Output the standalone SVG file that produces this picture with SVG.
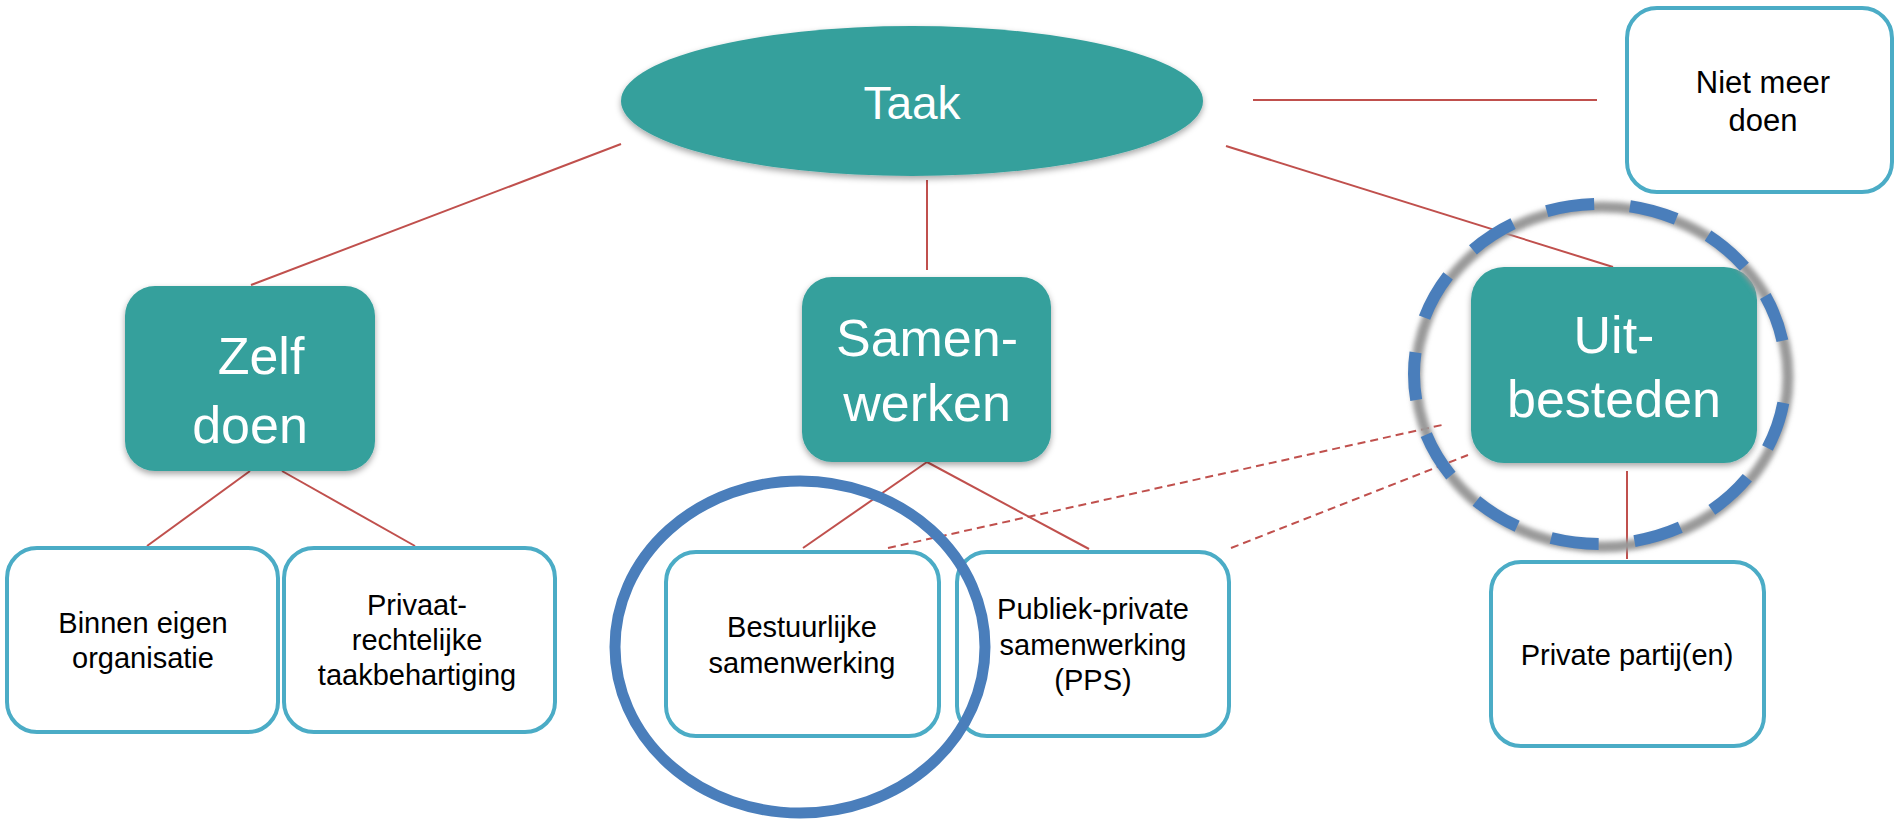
<svg xmlns="http://www.w3.org/2000/svg" width="1895" height="820" viewBox="0 0 1895 820">
<defs>
<filter id="sh" x="-20%" y="-20%" width="140%" height="150%">
<feDropShadow dx="0" dy="3" stdDeviation="3" flood-color="#000" flood-opacity="0.35"/>
</filter>
<filter id="blur" x="-20%" y="-20%" width="140%" height="140%">
<feGaussianBlur stdDeviation="2.5"/>
</filter>
<style>
.teal{fill:#35a09c;filter:url(#sh)}
.box{fill:#fff;stroke:#4bacc6;stroke-width:4}
.big{font-family:"Liberation Sans",Arial,sans-serif;font-size:52px;fill:#fff;text-anchor:middle}
.sm{font-family:"Liberation Sans",Arial,sans-serif;font-size:29px;fill:#000;text-anchor:middle}
.ln{stroke:#c0504d;stroke-width:2;fill:none}
.dl{stroke:#c0504d;stroke-width:2;fill:none;stroke-dasharray:8 5}
</style>
</defs>
<rect width="1895" height="820" fill="#fff"/>
<g id="connectors">
<line class="ln" x1="621" y1="144" x2="251" y2="285"/>
<line class="ln" x1="927" y1="180" x2="927" y2="270"/>
<line class="ln" x1="1226" y1="146" x2="1613" y2="267"/>
<line class="ln" x1="1253" y1="100" x2="1597" y2="100"/>
<line class="ln" x1="250" y1="471" x2="147" y2="546"/>
<line class="ln" x1="282" y1="471" x2="415" y2="546"/>
<line class="ln" x1="927" y1="462" x2="803" y2="548"/>
<line class="ln" x1="927" y1="462" x2="1089" y2="549"/>
<line class="ln" x1="1627" y1="471" x2="1627" y2="559"/>
<line class="dl" x1="888" y1="548" x2="1442" y2="425"/>
<line class="dl" x1="1231" y1="548" x2="1468" y2="455"/>
</g>
<g id="taak">
<ellipse class="teal" cx="912" cy="101" rx="291" ry="75"/>
<text class="big" x="912" y="119" style="font-size:46px">Taak</text>
</g>
<g id="niet-meer-doen">
<rect class="box" x="1627" y="8" width="265" height="184" rx="30"/>
<text class="sm" x="1763" y="93" style="font-size:31px">Niet meer</text>
<text class="sm" x="1763" y="131" style="font-size:31px">doen</text>
</g>
<g id="zelf-doen">
<rect class="teal" x="125" y="286" width="250" height="185" rx="30"/>
<text class="big" x="261" y="374">Zelf</text>
<text class="big" x="250" y="443">doen</text>
</g>
<g id="samenwerken">
<rect class="teal" x="802" y="277" width="249" height="185" rx="30"/>
<text class="big" x="927" y="356">Samen-</text>
<text class="big" x="927" y="421">werken</text>
</g>
<g id="uitbesteden">
<rect class="teal" x="1471" y="267" width="286" height="196" rx="33"/>
<text class="big" x="1614" y="353">Uit-</text>
<text class="big" x="1614" y="417">besteden</text>
</g>
<g id="binnen-eigen-organisatie">
<rect class="box" x="7" y="548" width="271" height="184" rx="30"/>
<text class="sm" x="143" y="633">Binnen eigen</text>
<text class="sm" x="143" y="668">organisatie</text>
</g>
<g id="privaatrechtelijke">
<rect class="box" x="284" y="548" width="271" height="184" rx="30"/>
<text class="sm" x="417" y="615">Privaat-</text>
<text class="sm" x="417" y="650">rechtelijke</text>
<text class="sm" x="417" y="685">taakbehartiging</text>
</g>
<g id="bestuurlijke-samenwerking">
<rect class="box" x="666" y="552" width="273" height="184" rx="30"/>
<text class="sm" x="802" y="637">Bestuurlijke</text>
<text class="sm" x="802" y="673">samenwerking</text>
</g>
<g id="pps">
<rect class="box" x="957" y="552" width="272" height="184" rx="30"/>
<text class="sm" x="1093" y="619">Publiek-private</text>
<text class="sm" x="1093" y="655">samenwerking</text>
<text class="sm" x="1093" y="690">(PPS)</text>
</g>
<g id="private-partijen">
<rect class="box" x="1491" y="562" width="273" height="184" rx="30"/>
<text class="sm" x="1627" y="665">Private partij(en)</text>
</g>
<g id="highlight-bestuurlijk">
<ellipse cx="800" cy="647" rx="185" ry="166" fill="none" stroke="#4a7ebb" stroke-width="11"/>
</g>
<g id="highlight-uitbesteden">
<ellipse cx="1602" cy="377" rx="186" ry="170" fill="none" stroke="#999" stroke-width="11" filter="url(#blur)"/>
<ellipse cx="1600" cy="374" rx="186" ry="170" fill="none" stroke="#4a7ebb" stroke-width="12" stroke-dasharray="48 36" stroke-dashoffset="55"/>
</g>
</svg>
